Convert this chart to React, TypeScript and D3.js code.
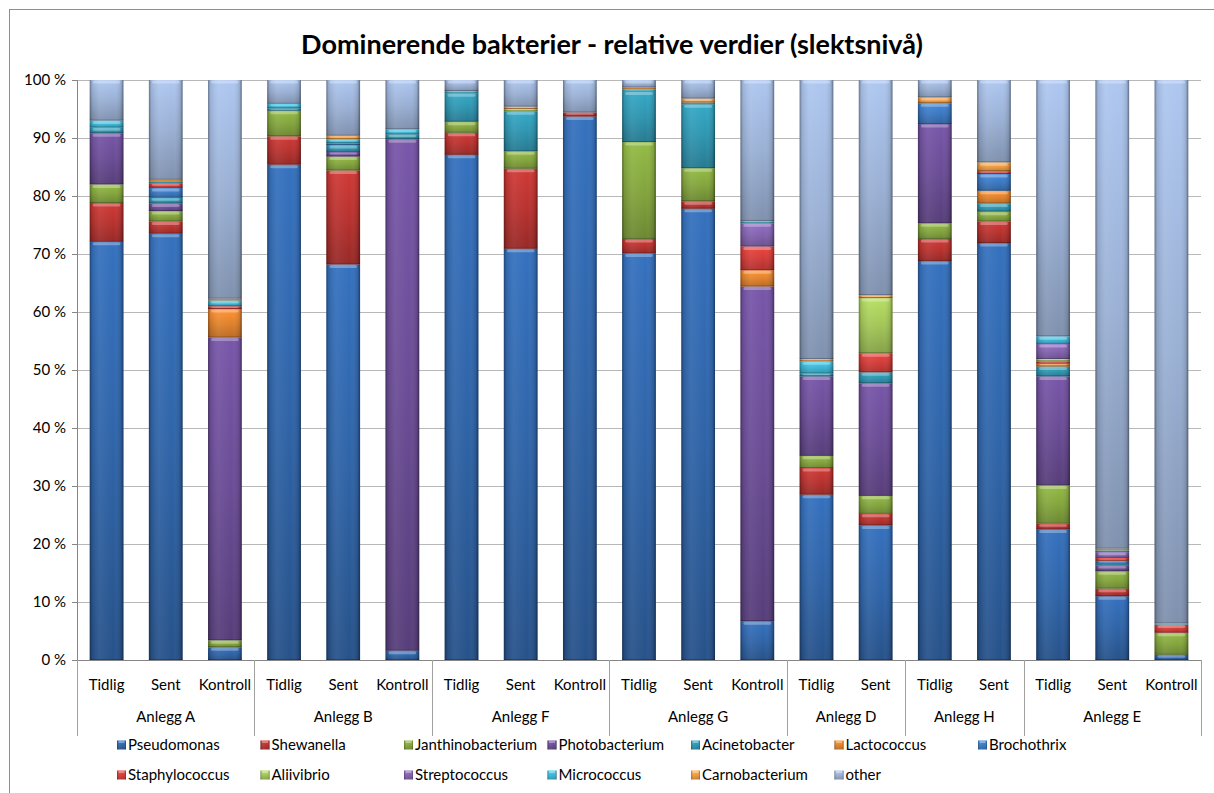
import React from "react";
import * as d3 from "d3";

const categories = ["Tidlig","Sent","Kontroll","Tidlig","Sent","Kontroll","Tidlig","Sent","Kontroll","Tidlig","Sent","Kontroll","Tidlig","Sent","Tidlig","Sent","Tidlig","Sent","Kontroll"];
const groups = ["Anlegg A","Anlegg A","Anlegg A","Anlegg B","Anlegg B","Anlegg B","Anlegg F","Anlegg F","Anlegg F","Anlegg G","Anlegg G","Anlegg G","Anlegg D","Anlegg D","Anlegg H","Anlegg H","Anlegg E","Anlegg E","Anlegg E"];

const seriesNames = ["Pseudomonas","Shewanella","Janthinobacterium","Photobacterium","Acinetobacter","Lactococcus","Brochothrix","Staphylococcus","Aliivibrio","Streptococcus","Micrococcus","Carnobacterium","other"];

const pseudomonas = [72.1, 73.5, 2.2, 85.4, 68.2, 1.6, 87.1, 70.9, 93.7, 70.1, 77.8, 6.7, 28.5, 23.2, 68.8, 71.9, 22.5, 11.0, 0.9];
const shewanella = [6.7, 2.1, 0, 4.9, 16.2, 0, 3.8, 13.8, 0.7, 2.5, 1.3, 0, 4.6, 2.0, 3.8, 3.7, 1.0, 1.3, 0];
const janthinobacterium = [3.2, 1.8, 1.2, 4.4, 2.4, 0, 1.9, 3.0, 0, 16.7, 5.7, 0, 2.1, 3.1, 2.7, 1.7, 6.6, 3.0, 3.8];
const photobacterium = [8.8, 1.3, 52.2, 0, 0.8, 88.2, 0, 0, 0, 0, 0, 57.7, 13.7, 19.4, 17.1, 0, 18.8, 1.0, 0];
const acinetobacter = [1.0, 1.0, 0, 0.4, 1.2, 0.8, 4.9, 6.9, 0, 8.7, 11.0, 0, 0.5, 1.9, 0, 1.4, 1.7, 0.3, 0];
const lactococcus = [0, 0, 4.9, 0, 0, 0, 0, 0, 0, 0, 0, 2.8, 0, 0, 0, 2.2, 0.5, 0, 0];
const brochothrix = [0, 1.7, 0, 0, 0.3, 0, 0, 0, 0, 0, 0, 0, 0, 0, 3.6, 2.9, 0, 0.5, 0];
const staphylococcus = [0, 0.8, 0.5, 0, 0, 0, 0, 0, 0, 0, 0, 4.1, 0, 3.3, 0, 0.5, 0.4, 0.5, 1.4];
const aliivibrio = [0, 0, 0, 0, 0, 0, 0, 0.4, 0, 0, 0, 0, 0, 9.5, 0, 0, 0.4, 0, 0];
const streptococcus = [0, 0, 0, 0, 0, 0, 0, 0, 0, 0, 0, 4.0, 0, 0, 0, 0, 2.6, 1.0, 0];
const micrococcus = [1.2, 0.3, 1.0, 0.8, 0.7, 0.9, 0.4, 0, 0, 0.4, 0.3, 0.4, 2.1, 0, 0, 0, 1.3, 0.3, 0.2];
const carnobacterium = [0, 0.3, 0.3, 0, 0.6, 0, 0, 0.4, 0, 0.3, 0.7, 0, 0.4, 0.5, 1.0, 1.5, 0, 0.3, 0];
const other = [7.0, 17.2, 37.7, 4.1, 9.6, 8.5, 1.9, 4.6, 5.6, 1.3, 3.2, 24.3, 48.1, 37.1, 3.0, 14.2, 44.2, 80.8, 93.7];

const seriesValues = [pseudomonas, shewanella, janthinobacterium, photobacterium, acinetobacter, lactococcus, brochothrix, staphylococcus, aliivibrio, streptococcus, micrococcus, carnobacterium, other];

const colors = ["#2f64a8","#b8322f","#83a53d","#6a4c95","#2f95b0","#e2822c","#3b78c1","#d23c38","#a2c557","#8262ae","#3bb6d6","#f09a40","#9ab0d4"];

const title = "Dominerende bakterier - relative verdier (slektsnivå)";

const W = 1214, H = 793;
const L = 77, R = 1201, T = 80, B = 660;
const FONT = "Lato, 'Open Sans', sans-serif";

export default function App() {
  const rows = categories.map((c, i) => {
    const o: any = { i };
    seriesNames.forEach((s, k) => (o[s] = seriesValues[k][i]));
    return o;
  });
  const stacked = d3.stack().keys(seriesNames).offset(d3.stackOffsetExpand)(rows as any);

  const x = d3.scaleBand<number>().domain(d3.range(categories.length)).range([L, R]).paddingInner(0.43).paddingOuter(0.215);
  const y = d3.scaleLinear().domain([0, 1]).range([B, T]);
  const step = x.step();
  const ticks = y.ticks(10);

  const spans: { name: string; start: number; end: number }[] = [];
  groups.forEach((g, i) => {
    const last = spans[spans.length - 1];
    if (last && last.name === g) last.end = i;
    else spans.push({ name: g, start: i, end: i });
  });
  const edge = (i: number) => (x(i) as number) - step * 0.215;

  return (
    <svg width={W} height={H} style={{ position: "absolute", left: 0, top: 0, display: "block", background: "#fff" }} fontFamily={FONT}>
      <defs>
        {colors.map((c, k) => {
          const top = d3.color(c)!.brighter(0.35).formatHex();
          const bot = d3.color(c)!.darker(0.55).formatHex();
          return (
            <linearGradient key={k} id={`g${k}`} x1="0" y1="0" x2="0" y2="1">
              <stop offset="0" stopColor={top} />
              <stop offset="0.5" stopColor={c} />
              <stop offset="1" stopColor={bot} />
            </linearGradient>
          );
        })}
        <linearGradient id="edgeShade" x1="0" y1="0" x2="1" y2="0">
          <stop offset="0" stopColor="#000" stopOpacity="0.4" />
          <stop offset="0.07" stopColor="#000" stopOpacity="0.1" />
          <stop offset="0.3" stopColor="#fff" stopOpacity="0.06" />
          <stop offset="0.7" stopColor="#fff" stopOpacity="0.0" />
          <stop offset="0.93" stopColor="#000" stopOpacity="0.12" />
          <stop offset="1" stopColor="#000" stopOpacity="0.45" />
        </linearGradient>
        <clipPath id="frame"><rect x={0} y={0} width={W} height={H} /></clipPath>
      </defs>

      <rect x={9.5} y={9.5} width={W + 20} height={H + 20} fill="#fff" stroke="#8e8e8e" strokeWidth={1} clipPath="url(#frame)" />

      <text x={612} y={54} textAnchor="middle" fontSize={27} fontWeight="bold" fill="#000">{title}</text>

      {ticks.map((t) => (
        <line key={t} x1={L} x2={R} y1={Math.round(y(t)) + 0.5} y2={Math.round(y(t)) + 0.5} stroke="#b8b8b8" strokeWidth={1} />
      ))}
      {ticks.map((t) => (
        <g key={"l" + t}>
          <line x1={L - 5} x2={L} y1={Math.round(y(t)) + 0.5} y2={Math.round(y(t)) + 0.5} stroke="#868686" />
          <text x={66} y={y(t)} dy="0.35em" textAnchor="end" fontSize={15} fill="#000">{`${Math.round(t * 100)} %`}</text>
        </g>
      ))}

      {stacked.map((s, k) => (
        <g key={k}>
          {s.map((d, i) => {
            const y0 = y(d[0]), y1 = y(d[1]);
            const h = y0 - y1;
            if (h <= 0.05) return null;
            const bx = x(i) as number, bw = x.bandwidth();
            const hl = Math.min(3, h * 0.45);
            return (
              <g key={i}>
                <rect x={bx} y={y1} width={bw} height={h} fill={`url(#g${k})`} />
                <rect x={bx} y={y1} width={bw} height={h} fill="url(#edgeShade)" />
                {h > 2 && <rect x={bx + 3} y={y1 + 0.5} width={bw - 6} height={hl} rx={1.5} fill="#fff" opacity={0.3} />}
                {h > 1.5 && <line x1={bx} x2={bx + bw} y1={y0 - 0.5} y2={y0 - 0.5} stroke="#000" strokeOpacity={0.25} />}
              </g>
            );
          })}
        </g>
      ))}

      <line x1={L + 0.5} x2={L + 0.5} y1={T} y2={B} stroke="#868686" />
      <line x1={L} x2={R} y1={B + 0.5} y2={B + 0.5} stroke="#868686" />
      {spans.map((sp, j) => (
        <line key={"s" + j} x1={Math.round(edge(sp.start)) + 0.5} x2={Math.round(edge(sp.start)) + 0.5} y1={B} y2={736} stroke="#a0a0a0" />
      ))}
      <line x1={Math.round(R) + 0.5} x2={Math.round(R) + 0.5} y1={B} y2={736} stroke="#a0a0a0" />

      {categories.map((c, i) => (
        <text key={"c" + i} x={(x(i) as number) + x.bandwidth() / 2} y={685} dy="0.35em" textAnchor="middle" fontSize={15} fill="#000">{c}</text>
      ))}
      {spans.map((sp, j) => (
        <text key={"g" + j} x={(edge(sp.start) + edge(sp.end) + step) / 2} y={717} dy="0.35em" textAnchor="middle" fontSize={15} fill="#000">{sp.name}</text>
      ))}

      {seriesNames.map((s, k) => {
        const col = k % 7, row = Math.floor(k / 7);
        const lx = 117 + col * 143.5, ly = 745 + row * 30;
        return (
          <g key={"lg" + k}>
            <rect x={lx} y={ly - 4.5} width={9} height={9} fill={`url(#g${k})`} />
            <rect x={lx} y={ly - 4.5} width={9} height={9} fill="url(#edgeShade)" />
            <rect x={lx + 1.5} y={ly - 4} width={6} height={2} fill="#fff" opacity={0.35} />
            <text x={lx + 11} y={ly} dy="0.35em" fontSize={15} fill="#000">{s}</text>
          </g>
        );
      })}
    </svg>
  );
}
